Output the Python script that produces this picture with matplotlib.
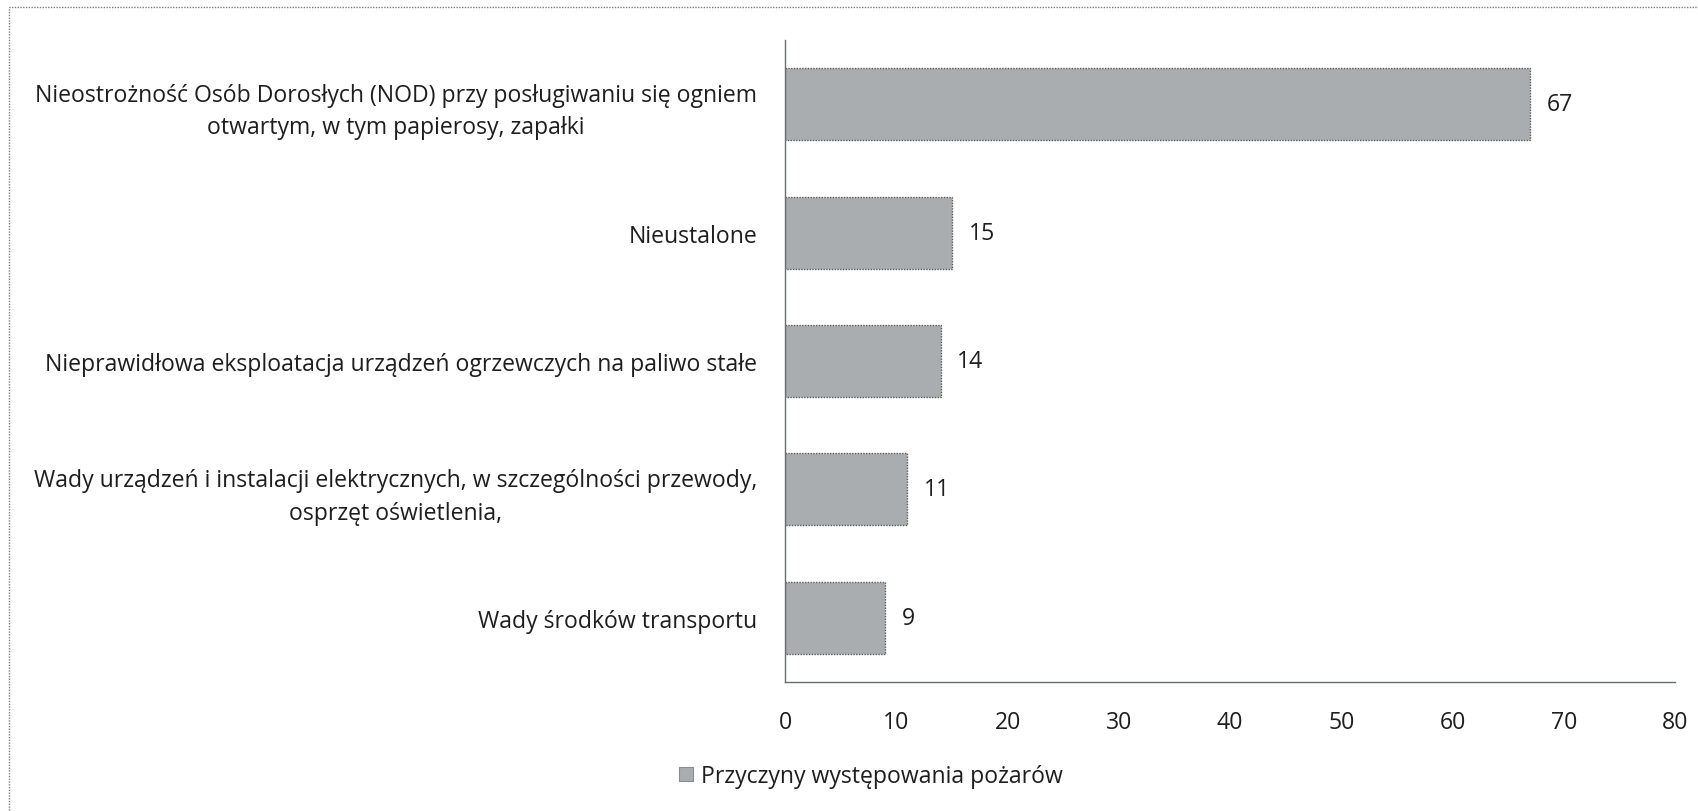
import matplotlib
matplotlib.use("Agg")
import matplotlib.pyplot as plt
from matplotlib.patches import Rectangle, Patch

# data (top to bottom)
categories = [
    "Nieostrożność Osób Dorosłych (NOD) przy posługiwaniu się ogniem\notwartym, w tym papierosy, zapałki",
    "Nieustalone",
    "Nieprawidłowa eksploatacja urządzeń ogrzewczych na paliwo stałe",
    "Wady urządzeń i instalacji elektrycznych, w szczególności przewody,\nosprzęt oświetlenia,",
    "Wady środków transportu",
]
values = [67, 15, 14, 11, 9]
xticks = [0, 10, 20, 30, 40, 50, 60, 70, 80]
series_name = "Przyczyny występowania pożarów"

plt.rcParams['font.family'] = ['Open Sans', 'DejaVu Sans']
FS = 16.6
TXT = '#1e1e1e'
BAR = '#a9adb0'

W, H = 1698, 812
fig = plt.figure(figsize=(W / 100, H / 100), dpi=100)
ax = fig.add_axes([785 / W, 1 - 683 / H, (1675 - 785) / W, (683 - 41) / H])

pos = list(range(len(values)))
ax.barh(pos, values, height=0.56, color=BAR, edgecolor='#5a5e60',
        linewidth=1.0, linestyle=(0, (1, 1)))
ax.set_ylim(len(values) - 0.5, -0.5)
ax.set_xlim(0, 80)
ax.set_xticks(xticks)
ax.set_xticklabels([str(t) for t in xticks], fontsize=FS, color=TXT)
ax.set_yticks(pos)
ax.set_yticklabels(categories, fontsize=FS, color=TXT, multialignment='center',
                   linespacing=1.45)
ax.tick_params(axis='both', length=0)
ax.tick_params(axis='y', pad=20)
ax.tick_params(axis='x', pad=20)

for s in ['top', 'right']:
    ax.spines[s].set_visible(False)
for s in ['left', 'bottom']:
    ax.spines[s].set_color('#6a6e70')
    ax.spines[s].set_linewidth(1.0)
    ax.spines[s].set_linestyle((0, (1, 1)))

for p, v in zip(pos, values):
    ax.annotate(str(v), (v, p), xytext=(12, 0), textcoords='offset points',
                va='center', ha='left', fontsize=FS, color=TXT)

# legend
handle = Patch(facecolor=BAR, edgecolor='#8a8e90', linewidth=0.8)
fig.legend([handle], [series_name], loc='center', bbox_to_anchor=(871 / W, 1 - 777 / H),
           frameon=False, fontsize=FS, handlelength=0.6, handleheight=0.6,
           handletextpad=0.35, labelcolor=TXT)

# outer chart frame (cut at right and bottom in the scan)
fig.patches.append(Rectangle((9 / W, -0.05), 1.1, 1.05 - 8 / H, transform=fig.transFigure,
                             fill=False, edgecolor='#7a7e80', linewidth=1.0,
                             linestyle=(0, (1, 1))))

fig.savefig('out.png', dpi=100, facecolor='white')
